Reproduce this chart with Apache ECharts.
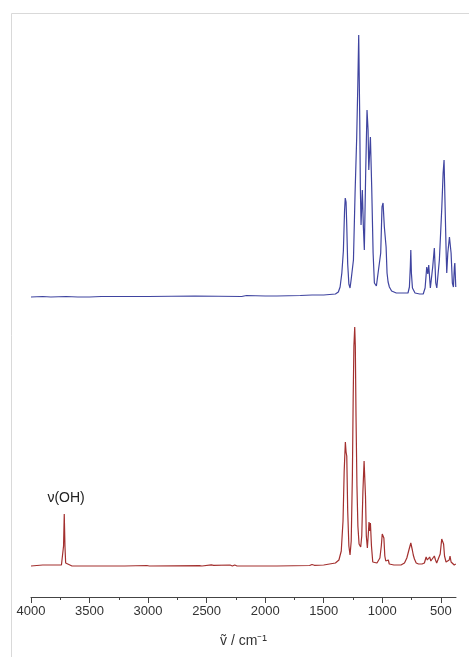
<!DOCTYPE html>
<html>
<head>
<meta charset="utf-8">
<script src="https://cdn.jsdelivr.net/npm/echarts@6/dist/echarts.min.js"></script>
<style>
html,body{margin:0;padding:0;background:#fff;}
#c{width:469px;height:657px;}
</style>
</head>
<body>
<div id="c"></div>
<script>
// Wavenumbers (cm^-1) and intensities (arb. units, blue trace offset upward)
const blueX = [4000,3900,3830,3820,3700,3600,3590,3500,3400,3390,3000,2600,2590,2200,2160,2150,2000,1900,1700,1600,1500,1450,1400,1375,1360,1345,1332,1322,1316,1309,1303,1295,1285,1275,1266,1246,1232,1218,1209,1201,1192,1187,1181,1170,1161,1153,1141,1130,1121,1115,1101,1090,1078,1067,1050,1033,1013,1002,993,982,967,959,950,939,920,880,820,780,768,760,756,751,742,720,680,650,634,620,611,603,589,569,555,543,534,512,491,480,472,463,454,449,440,426,412,401,392,384,380,372];
const blueY = [2.69,2.695,2.69,2.70,2.695,2.69,2.70,2.69,2.695,2.70,2.695,2.70,2.71,2.695,2.705,2.70,2.70,2.70,2.705,2.71,2.71,2.715,2.72,2.74,2.79,2.93,3.15,3.55,3.68,3.64,3.40,3.02,2.82,2.78,2.86,3.06,3.73,4.29,4.79,5.31,4.46,3.79,3.41,3.76,3.39,3.16,3.96,4.56,4.36,3.96,4.29,3.79,3.13,2.83,2.80,2.79,3.13,3.59,3.63,3.39,3.19,2.93,2.84,2.79,2.75,2.73,2.73,2.73,2.79,3.0,3.16,2.93,2.78,2.73,2.72,2.72,2.78,2.99,2.92,3.01,2.78,2.99,3.18,2.83,2.78,3.06,3.59,3.93,4.06,3.59,3.13,2.93,3.13,3.29,3.13,2.83,2.79,2.99,3.03,2.79];

const redX = [4000,3900,3800,3740,3728,3722,3716,3710,3704,3695,3650,3600,3200,3010,3000,2990,2560,2550,2540,2460,2440,2300,2280,2260,2240,1900,1620,1600,1580,1500,1450,1400,1370,1350,1335,1325,1315,1309,1303,1295,1285,1275,1265,1255,1248,1242,1235,1230,1224,1216,1208,1198,1184,1175,1165,1155,1149,1143,1136,1127,1120,1113,1107,1101,1092,1081,1065,1045,1020,1008,1000,993,986,978,970,962,955,948,940,925,900,880,868,858,840,810,790,770,756,751,743,735,725,710,690,660,640,625,615,605,595,585,570,555,545,535,520,505,492,482,476,468,455,440,428,421,412,400,385,372];
const redY = [0,0.01,0.01,0.01,0.03,0.2,0.52,0.2,0.03,0.01,0.0,0.0,0.0,0.005,0.012,0.0,0.003,0.012,0.0,0.012,0.006,0.01,0.0,0.01,0.0,0.0,0.005,0.015,0.007,0.01,0.02,0.03,0.06,0.15,0.45,0.95,1.24,1.14,1.10,0.55,0.2,0.11,0.25,0.9,1.7,2.2,2.39,2.2,1.5,0.8,0.4,0.22,0.19,0.3,0.75,1.05,1.07,0.7,0.3,0.18,0.3,0.44,0.35,0.43,0.2,0.04,0.03,0.03,0.08,0.2,0.32,0.34,0.28,0.1,0.05,0.05,0.045,0.06,0.02,0.01,0.01,0.01,0.03,0.01,0.01,0.03,0.08,0.17,0.23,0.22,0.16,0.11,0.07,0.03,0.02,0.02,0.03,0.09,0.06,0.08,0.09,0.05,0.05,0.1,0.06,0.03,0.04,0.12,0.27,0.28,0.22,0.1,0.04,0.03,0.06,0.1,0.04,0.02,0.01,0.02];

const majorTicks = [4000,3500,3000,2500,2000,1500,1000,500];
const minorTicks = [3750,3250,2750,2250,1750,1250,750];
const annotation = {text: 'ν(OH)', x: 3700, y: 0.68};

const zip = (xs, ys) => xs.map((x, i) => [x, ys[i]]);
const FONT = 'Liberation Sans, Arial, sans-serif';

const chart = echarts.init(document.getElementById('c'), null, {renderer: 'canvas'});
const xBase = {
  type: 'value', inverse: true, min: 370, max: 4000, gridIndex: 0,
  splitLine: {show: false}, position: 'bottom'
};
chart.setOption({
  animation: false,
  backgroundColor: '#fff',
  textStyle: {fontFamily: FONT},
  graphic: [{
    type: 'rect', silent: true,
    shape: {x: 11.5, y: 13.5, width: 600, height: 800},
    style: {fill: 'none', stroke: '#d9d9d9', lineWidth: 1}
  }],
  grid: {left: 31, right: 13, top: 30, bottom: 60},
  xAxis: [
    Object.assign({}, xBase, {
      axisLine: {show: true, onZero: false, lineStyle: {color: '#444', width: 1}},
      axisTick: {show: true, customValues: majorTicks, length: 6, lineStyle: {color: '#444'}},
      axisLabel: {show: true, customValues: majorTicks, color: '#333', fontSize: 13, margin: 8,
                  fontFamily: FONT, formatter: v => String(v)},
      name: 'ṽ / cm⁻¹', nameLocation: 'middle', nameGap: 37,
      nameTextStyle: {color: '#333', fontSize: 14, fontFamily: FONT}
    }),
    Object.assign({}, xBase, {
      axisLine: {show: false, onZero: false},
      axisTick: {show: true, customValues: minorTicks, length: 3, lineStyle: {color: '#444'}},
      axisLabel: {show: false}
    })
  ],
  yAxis: {type: 'value', min: -0.31, max: 5.36, show: false, splitLine: {show: false}},
  series: [
    {
      type: 'line', name: 'blue', data: zip(blueX, blueY), showSymbol: false,
      lineStyle: {color: '#3f44a0', width: 1.2}, itemStyle: {color: '#3f44a0'}
    },
    {
      type: 'line', name: 'red', data: zip(redX, redY), showSymbol: false,
      lineStyle: {color: '#a3302f', width: 1.2}, itemStyle: {color: '#a3302f'},
      markPoint: {
        symbol: 'circle', symbolSize: 0, silent: true,
        data: [{coord: [annotation.x, annotation.y], value: annotation.text}],
        label: {show: true, position: 'inside', formatter: annotation.text,
                color: '#222', fontSize: 14, fontFamily: FONT}
      }
    }
  ]
});
</script>
</body>
</html>
